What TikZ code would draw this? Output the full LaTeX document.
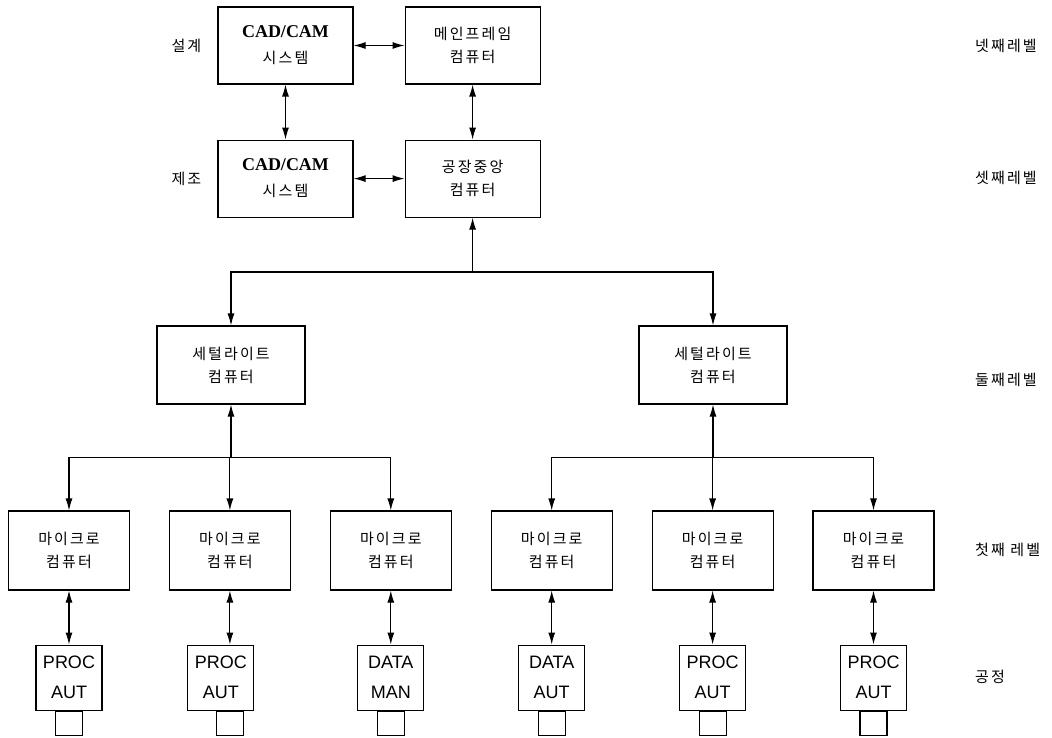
\documentclass[tikz,border=0pt]{standalone}
\usepackage{fontspec}
\setmainfont{Liberation Serif}
\newfontfamily\kor[LetterSpace=14]{Noto Sans CJK KR}
\newfontfamily\procfont{Liberation Sans}
\usetikzlibrary{arrows.meta,positioning,calc}

\begin{document}
\begin{tikzpicture}[
    x=1pt, y=-1pt,
    node distance=51pt,
    box/.style={rectangle, draw, line width=1.1pt, minimum width=135pt, minimum height=77pt, align=center, inner sep=2pt, font=\kor\fontsize{15}{23}\selectfont},
    cadbox/.style={box, font=\kor\fontsize{15}{26}\selectfont},
    satbox/.style={box, minimum width=148pt, minimum height=78pt},
    microbox/.style={box, minimum width=121pt, minimum height=79pt},
    procbox/.style={rectangle, draw, line width=1.1pt, minimum width=66pt, minimum height=65pt, align=center, inner sep=1pt, font=\procfont\fontsize{18}{30}\selectfont},
    stub/.style={rectangle, draw, line width=1.1pt, minimum width=27pt, minimum height=24pt, inner sep=0pt},
    lvl/.style={font=\kor\fontsize{15}{18}\selectfont, inner sep=0pt},
    bus/.style={line width=1.1pt, line cap=rect},
    arrow/.style={-{Latex[length=12pt,width=7pt]}, line width=1.1pt},
    dblarrow/.style={{Latex[length=12pt,width=7pt]}-{Latex[length=12pt,width=7pt]}, line width=1.1pt}
]
\useasboundingbox (0,0) rectangle (1052,738);

% Fourth level: design and mainframe
\node[cadbox] (cad1) at (285.5,45.5) {{\rmfamily\bfseries\fontsize{18}{26}\selectfont CAD/CAM}\\시스템};
\node[box, right=51pt of cad1] (mainfr) {메인프레임\\컴퓨터};

% Third level: manufacturing and factory computer
\node[cadbox, below=55pt of cad1] (cad2) {{\rmfamily\bfseries\fontsize{18}{26}\selectfont CAD/CAM}\\시스템};
\node[box, below=55pt of mainfr] (factory) {공장중앙\\컴퓨터};

\node[lvl, left=16pt of cad1] (design) {설계};
\node[lvl, left=16pt of cad2] (manuf) {제조};

% Second level: satellites
\node[satbox] (sat1) at (231,365) {세털라이트\\컴퓨터};
\node[satbox] (sat2) at (713,365) {세털라이트\\컴퓨터};

% First level: micro computers and processes
\foreach \i in {1,...,6} {
  \node[microbox] (m\i) at ({69+160.9*(\i-1)},550.5) {마이크로\\컴퓨터};
}
\foreach \i/\pa/\pb/\dx in {1/PROC/AUT/0, 2/PROC/AUT/-9, 3/DATA/MAN/0, 4/DATA/AUT/0, 5/PROC/AUT/0, 6/PROC/AUT/0} {
  \node[procbox, below=54pt of m\i, xshift=\dx pt] (p\i) {\pa\\\pb};
  \node[stub, anchor=north] (s\i) at (p\i.south -| m\i.south) {};
  \draw[dblarrow] (m\i.south) -- (m\i.south |- p\i.north);
}

% Level labels
\node[lvl, anchor=west] (lv4) at (975,45.5) {넷째레벨};
\node[lvl, anchor=west] (lv3) at (975,178) {셋째레벨};
\node[lvl, anchor=west] (lv2) at (975,380) {둘째레벨};
\node[lvl, anchor=west] (lv1) at (975,550) {첫째 레벨};
\node[lvl, anchor=west] (lv0) at (975,677) {공정};

% Arrows
\draw[dblarrow] (cad1) -- (mainfr);
\draw[dblarrow] (cad1) -- (cad2);
\draw[dblarrow] (mainfr) -- (factory);
\draw[dblarrow] (cad2) -- (factory);

\coordinate (tbus) at (factory.south |- 0,272);
\draw[bus] (sat1.north |- tbus) -- (sat2.north |- tbus);
\draw[arrow] (tbus) -- (factory.south);
\draw[arrow] (sat1.north |- tbus) -- (sat1.north);
\draw[arrow] (sat2.north |- tbus) -- (sat2.north);

\coordinate (lbus) at (sat1.south |- 0,457.5);
\coordinate (rbus) at (sat2.south |- 0,457.5);
\draw[bus] (m1.north |- lbus) -- (m3.north |- lbus);
\draw[bus] (m4.north |- rbus) -- (m6.north |- rbus);
\draw[arrow] (lbus) -- (sat1.south);
\draw[arrow] (rbus) -- (sat2.south);
\foreach \i in {1,2,3} \draw[arrow] (m\i.north |- lbus) -- (m\i.north);
\foreach \i in {4,5,6} \draw[arrow] (m\i.north |- rbus) -- (m\i.north);

\end{tikzpicture}
\end{document}
